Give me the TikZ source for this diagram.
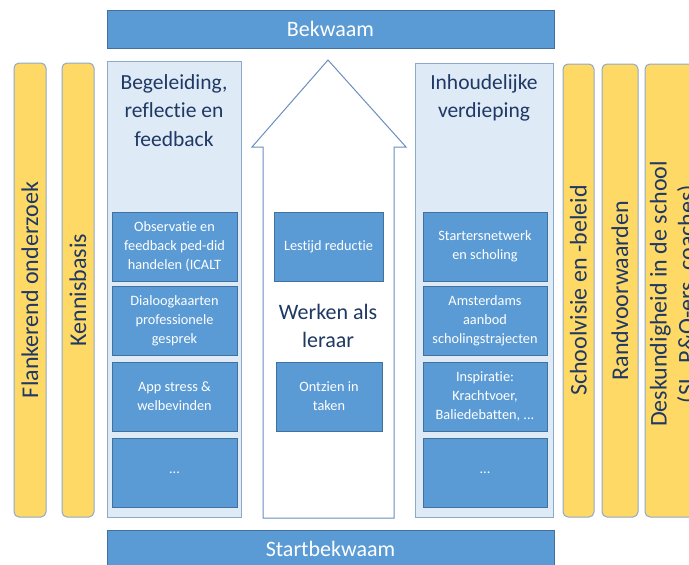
\documentclass[tikz,border=0pt]{standalone}
\usepackage{fontspec}
\setmainfont{Carlito}[Ligatures={NoCommon}]
\definecolor{midblue}{HTML}{5B9BD5}
\definecolor{edgeblue}{HTML}{41719C}
\definecolor{paleblue}{HTML}{DEEBF7}
\definecolor{paleedge}{HTML}{8EA9C8}
\definecolor{sand}{HTML}{FFD966}
\definecolor{navy}{HTML}{1F3864}
\definecolor{arrowedge}{HTML}{6C8EBF}
\tikzset{
  bar/.style={draw=edgeblue, fill=midblue, line width=0.9pt, inner sep=0pt, text=white, font=\fontsize{22}{26}\selectfont},
  panel/.style={draw=paleedge, fill=paleblue, line width=1pt, inner sep=0pt},
  pillar/.style={draw=paleedge, fill=sand, line width=1pt, rounded corners=5pt, inner sep=0pt},
  pillartext/.style={rotate=90, text=navy, font=\fontsize{24}{28}\selectfont, align=center, inner sep=0pt},
  itembox/.style={draw=edgeblue, fill=midblue, line width=0.9pt, inner sep=2pt, text=white, align=center, font=\fontsize{14.3}{19}\selectfont},
  title/.style={text=navy, align=center, font=\fontsize{21.5}{28.5}\selectfont, inner sep=0pt},
}
\begin{document}
\begin{tikzpicture}[x=1pt,y=-1pt]
\useasboundingbox (0,0) rectangle (689,565);
\clip (0,0) rectangle (689,565);
% top and bottom bars
\node[bar, minimum width=447, minimum height=38] (bekwaam) at (330.5,29) {Bekwaam};
\node[bar, minimum width=447, minimum height=38] (start) at (330.5,549) {Startbekwaam};
% left pillars
\node[pillar, minimum width=32, minimum height=454] (p1) at (30,290) {};
\node[pillartext] (p1t) at (p1.center) {Flankerend onderzoek};
\node[pillar, minimum width=32, minimum height=454] (p2) at (78,290) {};
\node[pillartext] (p2t) at (p2.center) {Kennisbasis};
% right pillars
\node[pillar, minimum width=31, minimum height=453] (p3) at (578.5,290.5) {};
\node[pillartext] (p3t) at (p3.center) {Schoolvisie en -beleid};
\node[pillar, minimum width=36, minimum height=453] (p4) at (620,290.5) {};
\node[pillartext] (p4t) at (p4.center) {Randvoorwaarden};
\node[pillar, minimum width=60, minimum height=453] (p5) at (675,290.5) {};
\node[pillartext] (p5t) at (674,294) {Deskundigheid in de school\\(SL, P\&O-ers, coaches)};
% panels
\node[panel, minimum width=134, minimum height=456] (lp) at (174,289) {};
\node[panel, minimum width=138, minimum height=454] (rp) at (484,290) {};
\node[title] (lt) at (174,110.5) {Begeleiding,\\reflectie en\\feedback};
\node[title] (rt) at (484,98) {Inhoudelijke\\verdieping};
% central arrow
\draw[draw=arrowedge, fill=white, line width=1pt, line join=miter]
  (263,518) -- (263,147) -- (252,147) -- (328,60) -- (406,147) -- (394,147) -- (394,518) -- cycle;
\node[title, font=\fontsize{22}{28}\selectfont] (work) at (328,326) {Werken als\\leraar};
% left items
\node[itembox, minimum width=125, minimum height=69] (l1) at (174.5,246.5) {Observatie en\\feedback ped-did\\handelen (ICALT};
\node[itembox, minimum width=125, minimum height=69] (l2) at (174.5,320.5) {Dialoogkaarten\\professionele\\gesprek};
\node[itembox, minimum width=125, minimum height=69] (l3) at (174.5,396.5) {App stress \&\\welbevinden};
\node[itembox, minimum width=125, minimum height=69] (l4) at (174.5,472.5) {...};
% right items
\node[itembox, minimum width=124, minimum height=69] (r1) at (485,246.5) {Startersnetwerk\\en scholing};
\node[itembox, minimum width=124, minimum height=69] (r2) at (485,320.5) {Amsterdams\\aanbod\\scholingstrajecten};
\node[itembox, minimum width=124, minimum height=69] (r3) at (485,396.5) {Inspiratie:\\Krachtvoer,\\Baliedebatten, ...};
\node[itembox, minimum width=124, minimum height=69] (r4) at (485,472.5) {...};
% centre items
\node[itembox, minimum width=109, minimum height=69] (c1) at (328.5,246.5) {Lestijd reductie};
\node[itembox, minimum width=106, minimum height=69] (c2) at (329,396.5) {Ontzien in\\taken};
\end{tikzpicture}
\end{document}
